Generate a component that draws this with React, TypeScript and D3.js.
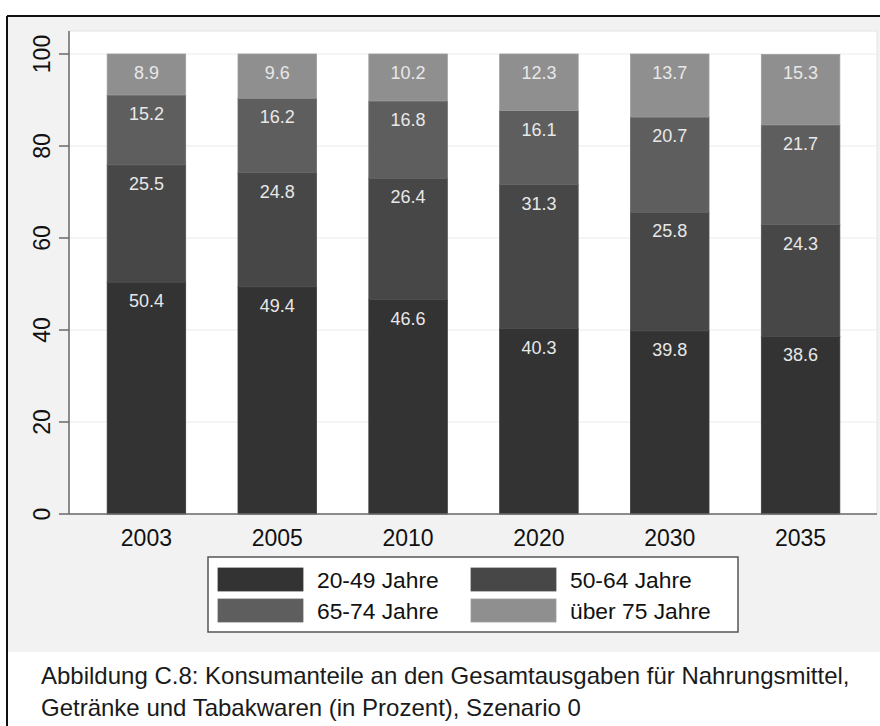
import React from "react";
import * as d3 from "d3";

const years = ["2003", "2005", "2010", "2020", "2030", "2035"];
const seriesNames = ["20-49 Jahre", "50-64 Jahre", "65-74 Jahre", "über 75 Jahre"];
const age2049 = [50.4, 49.4, 46.6, 40.3, 39.8, 38.6];
const age5064 = [25.5, 24.8, 26.4, 31.3, 25.8, 24.3];
const age6574 = [15.2, 16.2, 16.8, 16.1, 20.7, 21.7];
const age75 = [8.9, 9.6, 10.2, 12.3, 13.7, 15.3];
const yTicks = [0, 20, 40, 60, 80, 100];
const colors = ["#333333", "#474747", "#5e5e5e", "#8f8f8f"];
const captionLines = [
  "Abbildung C.8: Konsumanteile an den Gesamtausgaben für Nahrungsmittel,",
  "Getränke und Tabakwaren (in Prozent), Szenario 0",
];

const FONT = "'Liberation Sans', Arial, Helvetica, sans-serif";

export default function App() {
  const W = 880, H = 726;
  const plotL = 69, plotR = 877, plotT = 31, plotB = 514;
  const y = d3.scaleLinear().domain([0, 100]).range([514, 54]);
  const x = d3.scaleBand().domain(years).range([81, 866]).paddingInner(0.4).paddingOuter(0.2);

  const table = years.map((yr, i) => ({
    year: yr,
    a: age2049[i],
    b: age5064[i],
    c: age6574[i],
    d: age75[i],
  }));
  const keys = ["a", "b", "c", "d"];
  const stack = d3.stack<any>().keys(keys)(table);

  return (
    <svg width={W} height={H} style={{ position: "absolute", left: 0, top: 0, fontFamily: FONT }}>
      <rect x={0} y={0} width={W} height={H} fill="#ffffff" />
      <rect x={8} y={17} width={W - 8} height={652 - 17} fill="#f2f2f2" />
      <line x1={7} y1={16} x2={W} y2={16} stroke="#111" strokeWidth={2} />
      <line x1={7} y1={16} x2={7} y2={H} stroke="#111" strokeWidth={2} />
      <rect x={plotL} y={plotT} width={plotR - plotL} height={plotB - plotT} fill="#ffffff" stroke="#e4e4e4" strokeWidth={1} />
      {yTicks.filter((t) => t > 0).map((t) => (
        <line key={"g" + t} x1={plotL} x2={plotR} y1={y(t)} y2={y(t)} stroke="#ececec" strokeWidth={1.2} />
      ))}
      {stack.map((layer, si) => (
        <g key={"s" + si}>
          {layer.map((seg, i) => (
            <rect
              key={i}
              x={x(years[i])}
              y={y(seg[1])}
              width={x.bandwidth()}
              height={y(seg[0]) - y(seg[1])}
              fill={colors[si]}
              stroke={d3.color(colors[si])!.brighter(0.25).toString()}
              strokeWidth={0.8}
            />
          ))}
        </g>
      ))}
      {stack.map((layer, si) => (
        <g key={"l" + si}>
          {layer.map((seg, i) => (
            <text
              key={i}
              x={(x(years[i]) as number) + x.bandwidth() / 2}
              y={y(seg[1]) + 25}
              textAnchor="middle"
              fontSize={18}
              fill="#e8e8e8"
            >
              {(seg[1] - seg[0]).toFixed(1)}
            </text>
          ))}
        </g>
      ))}
      <line x1={plotL} x2={plotL} y1={plotT} y2={plotB} stroke="#6a6a6a" strokeWidth={1.5} />
      <line x1={plotL} x2={plotR} y1={plotB} y2={plotB} stroke="#6a6a6a" strokeWidth={1.5} />
      {yTicks.map((t) => (
        <g key={"yt" + t}>
          <line x1={59} x2={plotL} y1={y(t)} y2={y(t)} stroke="#6a6a6a" strokeWidth={1.5} />
          <text
            transform={`translate(50,${y(t)}) rotate(-90)`}
            textAnchor="middle"
            fontSize={23}
            fill="#111"
          >
            {t}
          </text>
        </g>
      ))}
      {years.map((yr) => (
        <text
          key={"xt" + yr}
          x={(x(yr) as number) + x.bandwidth() / 2}
          y={546}
          textAnchor="middle"
          fontSize={23}
          fill="#111"
        >
          {yr}
        </text>
      ))}
      <rect x={208} y={557} width={530} height={75} fill="#ffffff" stroke="#555" strokeWidth={1.5} />
      {seriesNames.map((name, i) => {
        const col = i % 2;
        const row = Math.floor(i / 2);
        const sx = col === 0 ? 218 : 471;
        const sy = row === 0 ? 568 : 599;
        return (
          <g key={"lg" + i}>
            <rect x={sx} y={sy} width={85} height={23} fill={colors[i]} stroke={d3.color(colors[i])!.brighter(0.25).toString()} strokeWidth={0.8} />
            <text x={sx + 99} y={sy + 20} fontSize={22.8} fill="#111">
              {name}
            </text>
          </g>
        );
      })}
      {captionLines.map((ln, i) => (
        <text key={"c" + i} x={41} y={684 + i * 32} fontSize={24} fill="#1a1a1a">
          {ln}
        </text>
      ))}
    </svg>
  );
}
